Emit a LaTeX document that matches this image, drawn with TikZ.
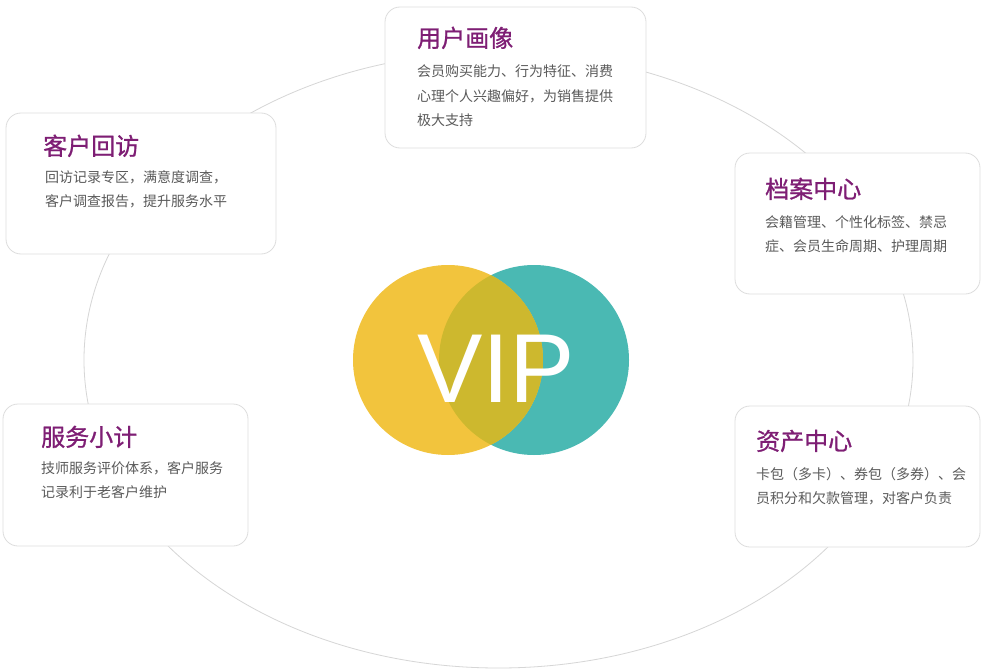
\documentclass[tikz,border=0pt]{standalone}
\usepackage{fontspec}
\setmainfont{Liberation Sans}
\newfontfamily\cjk{Noto Sans CJK SC}
\newfontfamily\cjktitle{Noto Sans CJK SC}[FakeBold=0.9]
\definecolor{cardline}{HTML}{DDDDDD}
\definecolor{ringline}{HTML}{D6D6D6}
\definecolor{titlepurple}{HTML}{7E1E74}
\definecolor{bodygray}{HTML}{5A5A5A}
\definecolor{vipyellow}{HTML}{F2C43D}
\definecolor{vipteal}{HTML}{4AB9B3}
\definecolor{vipmix}{HTML}{CDB82E}
\tikzset{
  card/.style={draw=cardline, fill=white, rounded corners=15pt, line width=0.8pt, inner sep=0pt},
  cardtitle/.style={anchor=base west, inner sep=0pt, text=titlepurple, font=\cjktitle\fontsize{24}{24}\selectfont},
  cardbody/.style={anchor=base west, inner sep=0pt, text=bodygray, font=\cjk\fontsize{14}{14}\selectfont},
  vipdisc/.style={circle, inner sep=0pt, minimum size=190pt},
}
\begin{document}
\begin{tikzpicture}[x=1pt,y=-1pt]
\fill[white] (0,0) rectangle (983,669);
\useasboundingbox (0,0) rectangle (983,669);
% ring
\draw[ringline, line width=0.8pt] (498.5,360) ellipse [x radius=414.5, y radius=308];
% cards
\node[card, minimum width=261pt, minimum height=141pt] (portrait) at (515.5,77.5) {};
\node[card, minimum width=270pt, minimum height=141pt] (visit) at (141,183.5) {};
\node[card, minimum width=245pt, minimum height=141pt] (archive) at (857.5,223.5) {};
\node[card, minimum width=245pt, minimum height=142pt] (service) at (125.5,475) {};
\node[card, minimum width=245pt, minimum height=141pt] (asset) at (857.5,476.5) {};
% texts: 用户画像
\node[cardtitle] (t1) at (417,47) {用户画像};
\node[cardbody] (b1a) at (417,77) {会员购买能力、行为特征、消费};
\node[cardbody] (b1b) at (417,101) {心理个人兴趣偏好，为销售提供};
\node[cardbody] (b1c) at (417,125) {极大支持};
% 客户回访
\node[cardtitle] (t2) at (43,155) {客户回访};
\node[cardbody] (b2a) at (45,182) {回访记录专区，满意度调查，};
\node[cardbody] (b2b) at (45,206) {客户调查报告，提升服务水平};
% 档案中心
\node[cardtitle] (t3) at (765,198) {档案中心};
\node[cardbody] (b3a) at (765,227) {会籍管理、个性化标签、禁忌};
\node[cardbody] (b3b) at (765,251) {症、会员生命周期、护理周期};
% 服务小计
\node[cardtitle] (t4) at (41,446) {服务小计};
\node[cardbody] (b4a) at (41,473) {技师服务评价体系，客户服务};
\node[cardbody] (b4b) at (41,497) {记录利于老客户维护};
% 资产中心
\node[cardtitle] (t5) at (756,450) {资产中心};
\node[cardbody] (b5a) at (756,479) {卡包（多卡）、券包（多券）、会};
\node[cardbody] (b5b) at (756,503) {员积分和欠款管理，对客户负责};
% VIP discs
\node[vipdisc, fill=vipteal] (discR) at (534,360) {};
\node[vipdisc, fill=vipyellow] (discL) at (448,360) {};
\begin{scope}
  \clip (448,360) circle [radius=95];
  \fill[vipmix] (534,360) circle [radius=95];
\end{scope}
\node[anchor=base west, inner sep=0pt, text=white, font=\fontsize{98}{98}\selectfont] (vip) at (417,402) {VIP};
\end{tikzpicture}
\end{document}
